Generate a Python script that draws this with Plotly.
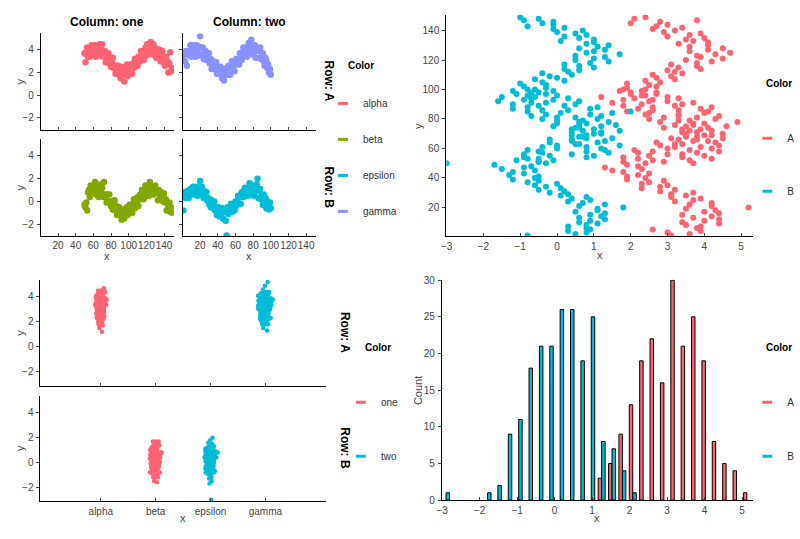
import plotly.graph_objects as go

# ---------------- data ----------------
x_one = [50, 51, 52, 53, 54, 55, 56, 57, 58, 59,
         60, 61, 62, 63, 64, 65, 66, 67, 68, 69,
         70, 71, 72, 73, 74, 75, 76, 77, 78, 79,
         80, 81, 82, 83, 84, 85, 86, 87, 88, 89,
         90, 91, 92, 93, 94, 95, 96, 97, 98, 99,
         100, 101, 102, 103, 104, 105, 106, 107, 108, 109,
         110, 111, 112, 113, 114, 115, 116, 117, 118, 119,
         120, 121, 122, 123, 124, 125, 126, 127, 128, 129,
         130, 131, 132, 133, 134, 135, 136, 137, 138, 139,
         140, 141, 142, 143, 144, 145, 146, 147, 148, 149]
x_two = [1, 2, 3, 4, 5, 6, 7, 8, 9, 10,
         11, 12, 13, 14, 15, 16, 17, 18, 19, 20,
         21, 22, 23, 24, 25, 26, 27, 28, 29, 30,
         31, 32, 33, 34, 35, 36, 37, 38, 39, 40,
         41, 42, 43, 44, 45, 46, 47, 48, 49, 50,
         51, 52, 53, 54, 55, 56, 57, 58, 59, 60,
         61, 62, 63, 64, 65, 66, 67, 68, 69, 70,
         71, 72, 73, 74, 75, 76, 77, 78, 79, 80,
         81, 82, 83, 84, 85, 86, 87, 88, 89, 90,
         91, 92, 93, 94, 95, 96, 97, 98, 99, 100]

alpha_y = [3.7, 2.9, 3.6, 4.2, 3.4, 4.0, 3.4, 3.8, 4.4, 3.6,
           4.2, 3.9, 4.4, 3.4, 4.3, 4.1, 3.8, 4.5, 3.5, 4.0,
           4.5, 3.4, 3.6, 3.9, 2.9, 3.5, 3.2, 3.7, 2.8, 3.3,
           2.5, 2.9, 3.3, 2.4, 2.5, 1.9, 2.6, 2.2, 2.6, 1.8,
           2.3, 1.5, 2.5, 1.8, 2.1, 1.2, 2.3, 2.0, 2.7, 1.7,
           2.4, 1.9, 2.7, 2.5, 1.9, 2.8, 2.4, 3.2, 2.7, 3.1,
           2.6, 3.4, 3.2, 3.0, 3.9, 3.3, 3.8, 3.1, 3.8, 4.2,
           3.5, 4.5, 3.9, 3.8, 4.3, 4.7, 3.6, 4.1, 4.5, 3.6,
           4.1, 3.3, 4.1, 3.7, 3.5, 4.0, 3.0, 3.6, 3.9, 2.9,
           3.2, 2.6, 3.4, 2.7, 3.0, 2.0, 2.8, 3.8, 2.1, 2.4]
gamma_y = [3.1, 3.6, 3.0, 3.9, 2.6, 3.8, 3.9, 3.5, 4.4, 3.4,
           4.0, 4.4, 3.7, 4.2, 3.4, 4.4, 4.0, 4.3, 3.5, 5.2,
           4.2, 3.6, 4.2, 3.2, 3.7, 3.9, 3.1, 3.5, 3.1, 3.7,
           2.8, 3.2, 2.3, 2.8, 3.0, 2.3, 2.5, 2.9, 1.9, 2.4,
           1.9, 2.2, 2.5, 1.8, 1.5, 2.3, 1.3, 2.2, 1.9, 2.4,
           1.8, 2.6, 2.2, 1.8, 2.5, 3.0, 2.2, 2.6, 2.1, 3.0,
           3.2, 2.8, 3.2, 2.7, 3.7, 3.3, 3.1, 3.8, 4.2, 3.5,
           3.8, 4.2, 3.4, 4.1, 4.6, 3.7, 4.0, 4.9, 3.6, 4.3,
           3.8, 4.4, 3.3, 4.0, 4.1, 3.3, 3.9, 4.2, 3.2, 3.4,
           3.7, 3.0, 2.6, 3.3, 3.0, 2.4, 2.7, 2.0, 2.3, 1.8]
beta_y = [-0.3, -0.5, -0.1, -0.8, 0.8, 1.0, 0.4, 1.4, 0.8, 1.3,
          1.2, 0.8, 1.7, 0.6, 1.1, 1.3, 0.4, 1.5, 0.7, 0.8,
          1.2, 0.4, 1.7, 0.4, 0.6, -0.1, 0.6, 0.0, 0.6, 0.0,
          -0.4, 0.0, -0.7, -0.3, 0.1, -0.8, -0.4, -1.2, -0.8, -0.5,
          -1.2, -0.7, -1.6, -0.9, -0.7, -1.5, -0.8, -1.1, -0.5, -1.2,
          -0.8, -0.3, -0.9, -0.3, -1.0, -0.4, 0.2, -0.6, 0.0, -0.2,
          0.4, -0.4, 0.3, 0.6, 0.2, 1.0, 0.6, 0.2, 0.9, 1.4,
          0.5, 1.0, 1.3, 0.5, 1.7, 0.8, 1.0, 1.3, 0.6, 1.1,
          1.4, 0.8, 1.0, 0.1, 1.0, 0.6, 0.2, 0.8, 0.5, 0.0,
          0.7, -0.1, 0.2, -0.8, -0.1, -0.4, -0.1, -0.9, -0.5, -1.0]
epsilon_y = [-0.8, 0.5, 0.8, 0.3, 0.9, 0.8, 0.3, 0.8, 1.1, 0.6,
             0.9, 1.3, 0.6, 1.2, 0.9, 1.3, 0.5, 1.1, 1.1, 1.8,
             0.6, 1.3, 0.7, 0.3, 0.9, 0.4, 0.8, 0.1, 0.3, -0.2,
             0.2, -0.5, 0.1, -0.3, -0.6, 0.0, -0.8, -0.5, -1.2, -0.6,
             -0.5, -1.3, -0.9, -1.2, -0.6, -1.5, -0.9, -0.7, -1.7, -3.0,
             -0.5, -1.1, -0.5, -0.9, -0.2, -0.9, -0.4, -0.5, -0.8, 0.0,
             -0.4, 0.0, 0.5, -0.2, 0.4, -0.2, 0.8, 0.6, 0.4, 1.0,
             1.2, 0.7, 1.0, 0.5, 1.2, 1.6, 0.8, 1.4, 0.7, 1.1,
             0.5, 1.2, 0.9, 1.5, 2.0, 0.3, 0.9, 1.1, 0.2, 0.5,
             -0.3, 0.6, -0.1, 0.3, -0.6, 0.0, -0.3, -0.7, -0.1, -0.6]

categories = ["alpha", "beta", "epsilon", "gamma"]

hist_bin_centers = [-2.895, -2.618, -2.342, -2.065, -1.788, -1.512, -1.235, -0.958, -0.682, -0.405,
                    -0.128, 0.148, 0.425, 0.702, 0.978, 1.255, 1.532, 1.808, 2.085, 2.362,
                    2.638, 2.915, 3.192, 3.468, 3.745, 4.022, 4.298, 4.575, 4.852, 5.128]
hist_count_A = [0, 0, 0, 0, 0, 0, 0, 0, 0, 0,
                0, 0, 0, 0, 0, 3, 5, 9, 13, 19,
                22, 16, 30, 21, 25, 19, 8, 5, 4, 1]
hist_count_B = [1, 0, 0, 0, 1, 2, 9, 11, 18, 21,
                21, 26, 26, 19, 25, 8, 7, 4, 1, 0,
                0, 0, 0, 0, 0, 0, 0, 0, 0, 0]

# ---------------- style ----------------
FONT = "Liberation Sans, Arial, Helvetica, sans-serif"
RED = "#FF6372"
GREEN = "#83A700"
CYAN = "#00BCD6"
LAV = "#8891FF"
W, H = 800, 539


def dx(a, b):
    return [a / W, b / W]


def dy(top, bottom):
    return [1 - bottom / H, 1 - top / H]


tickfont = dict(family=FONT, size=10, color="#444")


def xax(**kw):
    d = dict(showline=True, linecolor="black", linewidth=1, showgrid=False, zeroline=False,
             ticks="inside", ticklen=3, tickcolor="#444", tickfont=tickfont, tickangle=0,
             ticklabelstandoff=1)
    d.update(kw)
    return d


def yax(**kw):
    d = dict(showline=True, linecolor="black", linewidth=1, showgrid=False, zeroline=False,
             ticks="outside", ticklen=3, tickcolor="#444", tickfont=tickfont, ticklabelstandoff=1)
    d.update(kw)
    return d


fig = go.Figure()

# ---- top-left facet grid ----
tl = [("alpha", x_one, alpha_y, RED, "x", "y"),
      ("gamma", x_two, gamma_y, LAV, "x2", "y2"),
      ("beta", x_one, beta_y, GREEN, "x3", "y3"),
      ("epsilon", x_two, epsilon_y, CYAN, "x4", "y4")]
for name, xs, ys, c, xa, ya in tl:
    fig.add_trace(go.Scatter(x=xs, y=ys, mode="markers", marker=dict(color=c, size=6.5),
                             xaxis=xa, yaxis=ya, showlegend=False))

# ---- top-right scatter (y vs x transposed) ----
fig.add_trace(go.Scatter(x=alpha_y + gamma_y, y=x_one + x_two, mode="markers",
                         marker=dict(color=RED, size=6), xaxis="x5", yaxis="y5", showlegend=False))
fig.add_trace(go.Scatter(x=beta_y + epsilon_y, y=x_one + x_two, mode="markers",
                         marker=dict(color=CYAN, size=6), xaxis="x5", yaxis="y5", showlegend=False))

# ---- bottom-left strip plots ----
strips = [("alpha", alpha_y, RED, "x6", "y6"),
          ("gamma", gamma_y, CYAN, "x6", "y6"),
          ("beta", beta_y, RED, "x7", "y7"),
          ("epsilon", epsilon_y, CYAN, "x7", "y7")]
for cat, ys, c, xa, ya in strips:
    fig.add_trace(go.Box(x=[cat] * len(ys), y=ys, boxpoints="all", jitter=1, pointpos=0,
                         width=0.27, fillcolor="rgba(0,0,0,0)",
                         line=dict(color="rgba(0,0,0,0)", width=0),
                         marker=dict(color=c, size=4.5), xaxis=xa, yaxis=ya,
                         showlegend=False, hoveron="points"))

# ---- bottom-right histogram (empty bins left blank) ----
fig.add_trace(go.Bar(x=hist_bin_centers, y=[c if c else None for c in hist_count_A],
                     marker=dict(color=RED, line=dict(color="black", width=1)),
                     xaxis="x8", yaxis="y8", showlegend=False))
fig.add_trace(go.Bar(x=hist_bin_centers, y=[c if c else None for c in hist_count_B],
                     marker=dict(color=CYAN, line=dict(color="black", width=1)),
                     xaxis="x8", yaxis="y8", showlegend=False))


# ---- legend entries ----
def leg(name, color, legend, xa, ya):
    fig.add_trace(go.Scatter(x=[None], y=[None], mode="markers", name=name, legendgroup=legend + name,
                             marker=dict(symbol="line-ew", size=7, color=color, line=dict(width=3, color=color)),
                             legend=legend, xaxis=xa, yaxis=ya, showlegend=True))


for n, c in [("alpha", RED), ("beta", GREEN), ("epsilon", CYAN), ("gamma", LAV)]:
    leg(n, c, "legend", "x", "y")
for n, c in [("A", RED), ("B", CYAN)]:
    leg(n, c, "legend2", "x5", "y5")
for n, c in [("one", RED), ("two", CYAN)]:
    leg(n, c, "legend3", "x6", "y6")
for n, c in [("A", RED), ("B", CYAN)]:
    leg(n, c, "legend4", "x8", "y8")

legfont = dict(family=FONT, size=10, color="#333")


def legpos(left, top, gap):
    return dict(x=left / W, y=1 - top / H, xanchor="left", yanchor="top", tracegroupgap=gap,
                traceorder="grouped", font=legfont, bgcolor="rgba(0,0,0,0)", borderwidth=0)


# ---- annotations ----
ann = []


def text(t, x, y, size=11, bold=False, angle=0, color="#444", xanchor="center"):
    ann.append(dict(text=("<b>%s</b>" % t) if bold else t, x=x / W, y=1 - y / H, xref="paper", yref="paper",
                    showarrow=False, textangle=angle, xanchor=xanchor, yanchor="middle",
                    font=dict(family=FONT, size=size, color=color)))


text("Column: one", 103, 17, 12, True, color="black")
text("Column: two", 246, 17, 12, True, color="black")
text("Row: A", 326, 78, 12, True, 90, "black")
text("Row: B", 326, 186, 12, True, 90, "black")
text("Row: A", 342, 334, 12, True, 90, "black")
text("Row: B", 342, 451.5, 12, True, 90, "black")
for lx, ly in [(343, 62), (764, 80), (360, 349), (764, 349)]:
    text("Color", lx, ly, 10, True, color="black", xanchor="left")
text("y", 15, 78, angle=-90)
text("y", 15, 186, angle=-90)
text("x", 103, 256)
text("x", 246, 256)
text("y", 415, 123, angle=-90)
text("x", 599, 255)
text("y", 15, 334, angle=-90)
text("y", 15, 451.5, angle=-90)
text("x", 179, 523)
text("Count", 415, 393, angle=-90)
text("x", 596, 523)

YR_TL = [-3.05, 5.45]
YR_BL = [-3.1, 5.37]
XR_TL = [0.5, 151.2]

fig.update_layout(
    width=W, height=H, margin=dict(l=0, r=0, t=0, b=0),
    paper_bgcolor="white", plot_bgcolor="white",
    font=dict(family=FONT),
    barmode="group", bargap=0.33, boxmode="overlay",
    xaxis=xax(domain=dx(36, 170), anchor="y", range=XR_TL, dtick=20, tick0=0, showticklabels=False),
    yaxis=yax(domain=dy(29, 127), anchor="x", range=YR_TL, dtick=2, tick0=0),
    xaxis2=xax(domain=dx(179, 313), anchor="y2", range=XR_TL, dtick=20, tick0=0, showticklabels=False),
    yaxis2=yax(domain=dy(29, 127), anchor="x2", range=YR_TL, dtick=2, tick0=0, showticklabels=False),
    xaxis3=xax(domain=dx(36, 170), anchor="y3", range=XR_TL, dtick=20, tick0=0, ticklabelstandoff=0),
    yaxis3=yax(domain=dy(137, 235.5), anchor="x3", range=YR_TL, dtick=2, tick0=0),
    xaxis4=xax(domain=dx(179, 313), anchor="y4", range=XR_TL, dtick=20, tick0=0, ticklabelstandoff=0),
    yaxis4=yax(domain=dy(137, 235.5), anchor="x4", range=YR_TL, dtick=2, tick0=0, showticklabels=False),
    xaxis5=xax(domain=dx(444, 753), anchor="y5", range=[-3.01, 5.33], dtick=1, tick0=0),
    yaxis5=yax(domain=dy(10, 235.5), anchor="x5", range=[0.5, 150.7], dtick=20, tick0=0),
    xaxis6=xax(domain=dx(35.7, 322.7), anchor="y6", type="category", categoryorder="array",
               categoryarray=categories, range=[-1.1, 4.1], showticklabels=False, matches="x7"),
    yaxis6=yax(domain=dy(280, 387.7), anchor="x6", range=YR_BL, dtick=2, tick0=0),
    xaxis7=xax(domain=dx(35.7, 322.7), anchor="y7", type="category", categoryorder="array",
               categoryarray=categories, range=[-1.1, 4.1]),
    yaxis7=yax(domain=dy(398.3, 505.3), anchor="x7", range=YR_BL, dtick=2, tick0=0),
    xaxis8=xax(domain=dx(439.5, 753), anchor="y8", range=[-3.01, 5.3], dtick=1, tick0=0),
    yaxis8=yax(domain=dy(280, 504.5), anchor="x8", range=[0, 30.05], dtick=5, tick0=0),
    legend=legpos(320, 85.5, 17),
    legend2=legpos(747, 121, 34),
    legend3=legpos(338, 390, 35),
    legend4=legpos(747, 390, 35),
    annotations=ann,
)

PIN = ("document.documentElement.style.margin='0';document.body.style.margin='0';"
       "document.body.style.overflow='hidden';"
       "var g=document.getElementsByClassName('plotly-graph-div')[0];"
       "g.style.position='fixed';g.style.left='0px';g.style.top='0px';")

fig.write_html("out.html", config={"displayModeBar": False}, post_script=PIN)
